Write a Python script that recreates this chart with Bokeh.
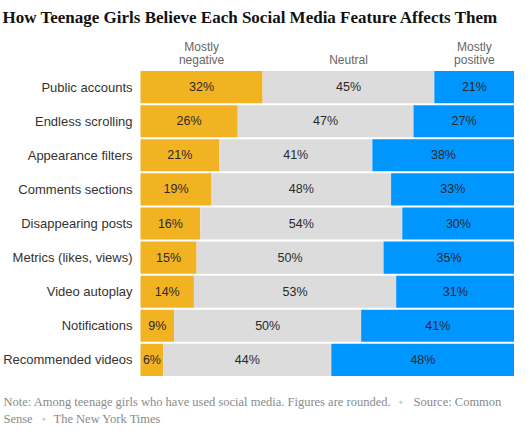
from bokeh.plotting import figure
from bokeh.models import Range1d, ColumnDataSource
from bokeh.core.properties import value
from bokeh.embed import file_html
from bokeh.resources import INLINE

# ---- data ----
categories = ["Public accounts", "Endless scrolling", "Appearance filters",
              "Comments sections", "Disappearing posts", "Metrics (likes, views)",
              "Video autoplay", "Notifications", "Recommended videos"]
negative = [32, 26, 21, 19, 16, 15, 14, 9, 6]
neutral = [45, 47, 41, 48, 54, 50, 53, 50, 44]
positive = [21, 27, 38, 33, 30, 35, 31, 41, 48]
series_names = ["Mostly\nnegative", "Neutral", "Mostly\npositive"]

title_text = "How Teenage Girls Believe Each Social Media Feature Affects Them"
note_text = "Note: Among teenage girls who have used social media. Figures are rounded."
source_text = ["Source: Common", "Sense"]
credit_text = "The New York Times"

colors = ["#F2B323", "#DCDCDC", "#0096FF"]
SANS = "Liberation Sans"
SERIF = "Liberation Serif"

# ---- layout (pixels on the canvas) ----
W, H = 514, 426
X0, X1 = 140, 514          # canvas x of 0% and 100%
ROW0, PITCH = 86.6, 34.1   # canvas y of first row centre, row pitch
BAR_H = 0.94

ppu = (X1 - X0) / 100.0
x_start = -X0 / ppu
x_end = 100 + (W - X1) / ppu
y_end = ROW0 / PITCH
y_start = -(H - ROW0) / PITCH

def dx(cx):
    return (cx - X0) / ppu
def dy(cy):
    return (ROW0 - cy) / PITCH

# normalised stacking (bars fill the full width)
rows = list(zip(negative, neutral, positive))
segs = {"y": [], "left": [], "right": [], "color": [], "mid": [], "label": []}
for i, vals in enumerate(rows):
    tot = sum(vals)
    acc = 0.0
    for v, c in zip(vals, colors):
        l = acc / tot * 100
        acc += v
        r = acc / tot * 100
        segs["y"].append(-i)
        segs["left"].append(l)
        segs["right"].append(r)
        segs["color"].append(c)
        segs["mid"].append((l + r) / 2)
        segs["label"].append(f"{v}%")
src = ColumnDataSource(segs)

p = figure(width=W, height=H, output_backend="svg", toolbar_location=None,
           x_range=Range1d(x_start, x_end), y_range=Range1d(y_start, y_end),
           min_border=0)
p.outline_line_color = None
p.xgrid.visible = False
p.ygrid.visible = False
p.xaxis.visible = False
p.yaxis.visible = False
p.background_fill_color = "white"
p.border_fill_color = "white"

p.hbar(y="y", left="left", right="right", height=BAR_H, fill_color="color",
       line_color=None, source=src)
p.text(x="mid", y="y", text="label", source=src, text_align="center",
       text_baseline="middle", text_font=value(SANS), text_font_size="12.5px",
       text_color="#2a2a2a")

# row labels
p.text(x=[0] * len(categories), y=[-i for i in range(len(categories))],
       text=categories, x_offset=-8, text_align="right", text_baseline="middle",
       text_font=value(SANS), text_font_size="13px", text_color="#333333")

# column headers above the first row's segments
hdr_x = segs["mid"][:3]
line1 = [n.split("\n")[0] if "\n" in n else "" for n in series_names]
line2 = [n.split("\n")[-1] for n in series_names]
p.text(x=hdr_x, y=[0] * 3, text=line1, y_offset=-40,
       text_align="center", text_baseline="middle", text_font=value(SANS),
       text_font_size="12px", text_color="#666666")
p.text(x=hdr_x, y=[0] * 3, text=line2, y_offset=-27,
       text_align="center", text_baseline="middle", text_font=value(SANS),
       text_font_size="12px", text_color="#666666")

# title
p.text(x=[dx(2)], y=[dy(17)], text=[title_text], text_align="left",
       text_baseline="middle", text_font=value(SERIF), text_font_style="bold",
       text_font_size="17px", text_color="#121212")

# note / source / credit
note_kw = dict(text_align="left", text_baseline="middle", text_font=value(SERIF),
               text_font_size="12.5px", text_color="#8a8a8a")
dot_kw = dict(text_align="center", text_baseline="middle", text_font=value(SANS),
              text_font_size="7px", text_color="#cccccc")
p.text(x=[dx(3), dx(413), dx(3), dx(53)], y=[dy(401), dy(401), dy(418), dy(418)],
       text=[note_text, source_text[0], source_text[1], credit_text], **note_kw)
p.text(x=[dx(400), dx(43)], y=[dy(401), dy(418)], text=["\u25CF", "\u25CF"], **dot_kw)

open("out.html", "w").write(file_html(p, INLINE))
